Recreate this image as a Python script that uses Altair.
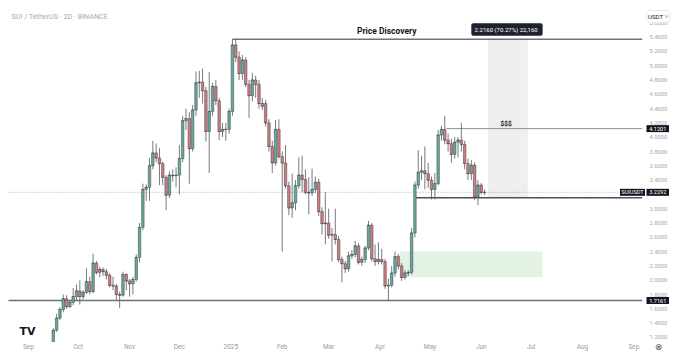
import altair as alt
import pandas as pd

# ---------------- data (2D candles, SUI/USDT) ----------------
start_date = "2024-09-16"
opens = [1.10, 1.30, 1.47, 1.59, 1.74, 1.63, 1.69, 1.77, 1.85, 1.77,
         1.83, 1.98, 1.84, 2.24, 2.11, 2.15, 2.12, 2.07, 1.93, 1.92,
         1.80, 1.79, 2.08, 1.99, 1.95, 2.01, 2.32, 2.74, 3.27, 3.30,
         3.60, 3.78, 3.71, 3.63, 3.44, 3.19, 3.47, 3.46, 3.47, 3.70,
         4.23, 4.26, 3.84, 4.38, 4.76, 4.77, 4.65, 4.08, 4.36, 4.71,
         4.51, 4.08, 4.11, 4.11, 4.36, 5.29, 5.12, 4.89, 5.08, 4.74,
         4.58, 4.80, 4.74, 4.43, 4.47, 4.20, 3.87, 3.64, 4.11, 3.73,
         3.64, 3.32, 3.01, 3.08, 3.32, 3.47, 3.41, 3.23, 3.22, 3.27,
         3.37, 2.96, 2.79, 2.80, 2.63, 2.64, 2.57, 2.29, 2.23, 2.16,
         2.34, 2.36, 2.48, 2.25, 2.29, 2.45, 2.77, 2.30, 2.26, 2.29,
         2.26, 1.92, 1.93, 2.10, 2.33, 2.20, 2.04, 2.10, 2.11, 2.66,
         3.33, 3.51, 3.53, 3.49, 3.40, 3.27, 3.35, 4.03, 4.11, 3.96,
         3.91, 3.76, 3.93, 3.96, 3.90, 3.63, 3.49, 3.61, 3.17, 3.33,
         3.23]
highs = [1.33, 1.53, 1.62, 1.80, 1.79, 1.72, 1.89, 1.94, 2.00, 1.86,
         2.17, 2.05, 2.37, 2.27, 2.19, 2.18, 2.16, 2.10, 2.05, 1.95,
         1.84, 2.12, 2.10, 2.02, 2.05, 2.36, 2.80, 3.35, 3.34, 3.71,
         3.95, 3.91, 3.85, 3.66, 3.47, 3.52, 3.55, 3.58, 3.89, 4.30,
         4.40, 4.35, 4.45, 4.92, 4.93, 4.96, 4.70, 4.91, 4.76, 4.80,
         4.55, 4.20, 4.20, 4.40, 5.37, 5.3696, 5.20, 5.15, 5.12, 4.80,
         4.90, 4.86, 4.80, 4.55, 4.52, 4.25, 3.95, 4.24, 4.25, 3.80,
         3.89, 3.38, 3.49, 3.40, 3.72, 3.74, 3.55, 3.44, 3.56, 3.45,
         3.42, 3.02, 3.23, 3.00, 2.73, 3.00, 2.62, 2.33, 2.27, 2.40,
         2.42, 2.55, 2.52, 2.33, 2.48, 2.83, 2.80, 2.50, 2.53, 2.44,
         2.30, 2.02, 2.20, 2.40, 2.37, 2.24, 2.14, 2.14, 2.73, 3.38,
         3.82, 3.74, 3.87, 3.64, 3.45, 3.50, 4.10, 4.16, 4.30, 4.05,
         3.98, 4.00, 4.00, 4.20, 3.95, 3.70, 3.68, 3.65, 3.40, 3.36,
         3.27]
lows = [1.07, 1.28, 1.44, 1.55, 1.60, 1.61, 1.65, 1.72, 1.66, 1.73,
        1.81, 1.80, 1.82, 2.08, 2.04, 2.06, 2.01, 1.90, 1.86, 1.72,
        1.61, 1.77, 1.86, 1.77, 1.80, 1.98, 2.25, 2.70, 3.11, 3.11,
        3.55, 3.65, 3.33, 3.33, 2.98, 3.15, 3.38, 3.30, 3.20, 3.65,
        4.10, 3.35, 3.80, 4.30, 4.55, 4.47, 3.94, 3.50, 4.30, 4.45,
        3.96, 4.00, 3.95, 4.05, 4.30, 5.05, 4.80, 4.80, 4.70, 4.27,
        4.50, 4.55, 4.40, 4.38, 4.15, 3.80, 3.50, 3.60, 3.70, 2.40,
        3.28, 2.91, 2.87, 2.98, 3.28, 3.23, 3.20, 2.92, 3.18, 3.22,
        2.90, 2.64, 2.50, 2.58, 2.26, 2.50, 2.25, 1.97, 2.10, 2.12,
        2.30, 2.32, 2.22, 2.20, 2.24, 2.42, 2.26, 2.20, 2.22, 2.22,
        1.88, 1.7161, 1.90, 2.05, 2.15, 1.99, 2.01, 2.06, 2.08, 2.60,
        3.28, 3.40, 3.27, 3.29, 3.13, 3.13, 3.33, 3.95, 3.90, 3.80,
        3.64, 3.70, 3.72, 3.80, 3.55, 3.40, 3.40, 3.12, 3.05, 3.20,
        3.19]
closes = [1.30, 1.47, 1.59, 1.74, 1.63, 1.69, 1.77, 1.85, 1.77, 1.83,
          1.98, 1.84, 2.24, 2.11, 2.15, 2.12, 2.07, 1.93, 1.92, 1.80,
          1.79, 2.08, 1.99, 1.95, 2.01, 2.32, 2.74, 3.27, 3.30, 3.60,
          3.78, 3.71, 3.63, 3.44, 3.19, 3.47, 3.46, 3.47, 3.70, 4.23,
          4.26, 3.84, 4.38, 4.76, 4.77, 4.65, 4.08, 4.36, 4.71, 4.51,
          4.08, 4.11, 4.11, 4.36, 5.29, 5.12, 4.89, 5.08, 4.74, 4.58,
          4.80, 4.74, 4.47, 4.47, 4.20, 3.87, 3.64, 4.11, 3.73, 3.64,
          3.32, 3.01, 3.08, 3.32, 3.47, 3.41, 3.23, 3.22, 3.27, 3.37,
          2.96, 2.79, 2.80, 2.63, 2.64, 2.57, 2.29, 2.23, 2.16, 2.34,
          2.36, 2.48, 2.25, 2.29, 2.45, 2.77, 2.30, 2.26, 2.29, 2.26,
          1.92, 1.93, 2.10, 2.33, 2.20, 2.04, 2.10, 2.11, 2.66, 3.33,
          3.51, 3.53, 3.49, 3.40, 3.27, 3.35, 4.03, 4.11, 3.96, 3.91,
          3.76, 3.93, 3.96, 3.90, 3.63, 3.49, 3.61, 3.17, 3.33, 3.23,
          3.2292]

# right price-scale labels (3.2000 is hidden behind the last-price tag)
price_ticks = [1.2, 1.4, 1.6, 1.8, 2.0, 2.2, 2.4, 2.6, 2.8, 3.0, 3.4,
               3.6, 3.8, 4.0, 4.2, 4.4, 4.6, 4.8, 5.0, 5.2, 5.4, 5.6]
month_dates = ["2024-09-01", "2024-10-01", "2024-11-01", "2024-12-01",
               "2025-01-01", "2025-02-01", "2025-03-01", "2025-04-01",
               "2025-05-01", "2025-06-01", "2025-07-01", "2025-08-01",
               "2025-09-01"]
month_labels = ["Sep", "Oct", "Nov", "Dec", "2025", "Feb", "Mar", "Apr",
                "May", "Jun", "Jul", "Aug", "Sep"]

ath_price = 5.3696
base_price = 3.1536
level_4 = 4.1201
last_price = 3.2292
low_price = 1.7161
title_text = "SUI / TetherUS \u00b7 2D \u00b7 BINANCE"
measure_text = "2.2160 (70.27%) 22,160"

# ---------------- layout ----------------
W, H = 638, 334
GREEN = "#67a999"
RED = "#d07c7c"
OUTLINE = "#3c3f47"
FONT = "Roboto"

dates = pd.date_range(start_date, periods=len(opens), freq="2D").strftime("%Y-%m-%d").tolist()
df = pd.DataFrame({"date": dates, "open": opens, "high": highs,
                   "low": lows, "close": closes})
df["dir"] = ["up" if c >= o else "down" for o, c in zip(opens, closes)]

x_scale = alt.Scale(domain=[alt.DateTime(year=2024, month=8, date=22, hours=17, utc=True),
                            alt.DateTime(year=2025, month=9, date=5, hours=7, utc=True)],
                    nice=False)
y_scale = alt.Scale(domain=[1.136, 5.807], nice=False, zero=False)
dir_color = alt.Color("dir:N", scale=alt.Scale(domain=["up", "down"], range=[GREEN, RED]),
                      legend=None)

def X(field):
    return alt.X(field, type="temporal", scale=x_scale, axis=None)

def Y(field):
    return alt.Y(field, type="quantitative", scale=y_scale, axis=None)

# zones
green_zone = alt.Chart(pd.DataFrame({"d1": ["2025-04-13"], "d2": ["2025-07-08"],
                                     "p1": [2.04], "p2": [2.40]})).mark_rect(
    color="#e4f2e6").encode(x=X("d1"), x2="d2:T", y=Y("p1"), y2="p2:Q")

measure_zone = alt.Chart(pd.DataFrame({"d1": ["2025-06-05"], "d2": ["2025-06-29"],
                                       "p1": [base_price], "p2": [ath_price]})).mark_rect(
    color="#efefef").encode(x=X("d1"), x2="d2:T", y=Y("p1"), y2="p2:Q")

def hline(d1, d2, price, color, width, dash=None):
    kw = dict(color=color, strokeWidth=width, clip=True)
    if dash:
        kw["strokeDash"] = dash
    return alt.Chart(pd.DataFrame({"d1": [d1], "d2": [d2], "p": [price]})).mark_rule(
        **kw).encode(x=X("d1"), x2="d2:T", y=Y("p"))

END = "2025-09-06"
BEGIN = "2024-08-20"
lines = [
    hline("2025-01-02", END, ath_price, "#6f727c", 1.5),
    hline("2025-05-11", END, level_4, "#8d9099", 1.0),
    hline(BEGIN, END, last_price, "#a6a9b1", 1.0, [1, 2]),
    hline("2025-04-22", END, base_price, "#4d505a", 1.3),
    hline(BEGIN, END, low_price, "#6f727c", 1.5),
]

# price scale labels (right)
ticks_df = pd.DataFrame({"p": price_ticks, "t": [f"{v:.4f}" for v in price_ticks]})
tick_txt = alt.Chart(ticks_df).mark_text(
    align="left", baseline="middle", fontSize=5.8, color="#a3a6ae", font=FONT).encode(
    x=alt.value(W + 3.5), y=Y("p"), text="t:N")

# candles
base = alt.Chart(df)
wicks = base.mark_rule(color="#55585f", strokeWidth=0.8, clip=True).encode(
    x=X("date"), y=Y("low"), y2="high:Q")
bodies = base.mark_bar(size=2.5, stroke=OUTLINE, strokeWidth=0.5, clip=True).encode(
    x=X("date"), y=Y("open"), y2="close:Q", color=dir_color)
doji = base.mark_tick(orient="horizontal", size=2.8, thickness=0.6, color=OUTLINE,
                      clip=True).encode(x=X("date"), y=Y("close"))

# annotations
ann = pd.DataFrame({"d": ["2025-04-05", "2025-06-16"], "p": [5.48, 4.19],
                    "t": ["Price Discovery", "$$$"], "s": [8.5, 6.5]})
ann_text = alt.Chart(ann).mark_text(fontWeight="bold", color="#131722", font=FONT,
                                    baseline="middle").encode(
    x=X("d"), y=Y("p"), text="t:N", size=alt.Size("s:Q", scale=None, legend=None))

label_box = alt.Chart(pd.DataFrame({"d1": ["2025-05-26"], "d2": ["2025-07-08"],
                                    "p1": [5.419], "p2": [5.593]})).mark_rect(
    color="#1e222d", cornerRadius=2).encode(x=X("d1"), x2="d2:T", y=Y("p1"), y2="p2:Q")
label_txt = alt.Chart(pd.DataFrame({"d": ["2025-06-16"], "p": [5.506], "t": [measure_text]})).mark_text(
    color="#ffffff", fontSize=6, font=FONT, baseline="middle").encode(
    x=X("d"), y=Y("p"), text="t:N")

# right-side price tags
tags = pd.DataFrame({"p": [level_4, last_price, low_price],
                     "t": [f"{level_4:.4f}", f"{last_price:.4f}", f"{low_price:.4f}"]})
tag_bg = alt.Chart(tags).mark_rule(color="#131722", strokeWidth=7).encode(
    x=alt.value(W + 0.5), x2=alt.value(W + 23), y=Y("p"))
tag_txt = alt.Chart(tags).mark_text(color="#ffffff", fontSize=5.6, font=FONT,
                                    baseline="middle").encode(
    x=alt.value(W + 11.8), y=Y("p"), text="t:N")
sym = pd.DataFrame({"p": [last_price], "t": ["SUIUSDT"]})
sym_bg = alt.Chart(sym).mark_rule(color="#131722", strokeWidth=7).encode(
    x=alt.value(W - 26), x2=alt.value(W - 1), y=Y("p"))
sym_txt = alt.Chart(sym).mark_text(color="#ffffff", fontSize=5.5, font=FONT,
                                   baseline="middle").encode(
    x=alt.value(W - 13.5), y=Y("p"), text="t:N")

# bottom time labels
months = pd.DataFrame({"d": month_dates, "t": month_labels})
month_txt = alt.Chart(months).mark_text(color="#9a9da5", fontSize=6.5, font=FONT,
                                        baseline="middle").encode(
    x=X("d"), y=alt.value(H + 4.5), text="t:N")

# chrome
title = alt.Chart(pd.DataFrame({"t": [title_text]})).mark_text(
    align="left", baseline="middle", fontSize=7.2, color="#a8abb3", font=FONT).encode(
    x=alt.value(3.5), y=alt.value(8.5), text="t:N")
usdt_box = alt.Chart(pd.DataFrame({"t": ["USDT \u02c5"]})).mark_rect(
    fill="#ffffff", stroke="#e0e3eb", strokeWidth=0.8, cornerRadius=3).encode(
    x=alt.value(W + 0.5), x2=alt.value(W + 24), y=alt.value(2.5), y2=alt.value(14.5))
usdt_txt = alt.Chart(pd.DataFrame({"t": ["USDT \u02c5"]})).mark_text(
    fontSize=6.2, color="#131722", font=FONT, baseline="middle").encode(
    x=alt.value(W + 12), y=alt.value(8.7), text="t:N")
tv_logo = alt.Chart(pd.DataFrame({"t": ["TV"]})).mark_text(
    fontSize=11, fontWeight="bold", color="#131722", font="DejaVu Sans",
    baseline="middle").encode(x=alt.value(19.5), y=alt.value(H - 10.5), text="t:N")
gear = alt.Chart(pd.DataFrame({"t": ["\u2297"]})).mark_text(
    fontSize=9, color="#50535e", font="DejaVu Sans", baseline="middle").encode(
    x=alt.value(W + 12.5), y=alt.value(H + 4.5), text="t:N")

chart = alt.layer(
    green_zone, measure_zone, *lines, tick_txt, wicks, bodies, doji, ann_text, label_box,
    label_txt, tag_bg, tag_txt, sym_bg, sym_txt, month_txt, title, usdt_box, usdt_txt,
    tv_logo, gear
).properties(
    width=W, height=H,
    background="#ffffff",
    autosize=alt.AutoSizeParams(type="none"),
    padding={"left": 0, "top": 0, "right": 26, "bottom": 12},
).configure_view(stroke=None)

chart.save("out.html", embed_options={"renderer": "svg", "actions": False})
